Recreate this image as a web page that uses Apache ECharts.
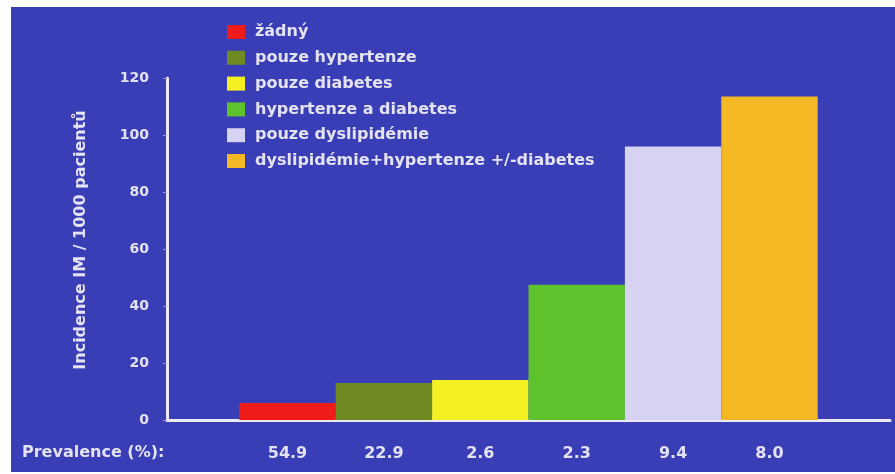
<!DOCTYPE html>
<html>
<head>
<meta charset="utf-8">
<script src="https://cdn.jsdelivr.net/npm/echarts@6/dist/echarts.min.js"></script>
<style>
html,body{margin:0;padding:0;background:#ffffff;width:895px;height:474px;overflow:hidden;}
#c{position:absolute;left:11px;top:7px;width:884px;height:465px;}
</style>
</head>
<body>
<div id="c"></div>
<script>
const categories = ['žádný','pouze hypertenze','pouze diabetes','hypertenze a diabetes','pouze dyslipidémie','dyslipidémie+hypertenze +/-diabetes'];
const incidence = [6, 13, 14, 47.5, 96, 113.5];
const prevalence = ['54.9','22.9','2.6','2.3','9.4','8.0'];
const yTicks = [0, 20, 40, 60, 80, 100, 120];
const colors = ['#f01c1c','#6f8a22','#f4f022','#5ec22c','#d6d2f2','#f4b824'];

const textColor = '#e4e2f6';
const font = 'DejaVu Sans';

const series = categories.map((name, i) => ({
  name: name,
  type: 'bar',
  stack: 'all',
  barWidth: '100%',
  itemStyle: { color: colors[i] },
  data: [[i, incidence[i]]]
}));

const chart = echarts.init(document.getElementById('c'));
chart.setOption({
  backgroundColor: '#3a3eb6',
  animation: false,
  title: {
    text: 'Prevalence (%):',
    left: 11,
    top: 438,
    padding: 0,
    textStyle: { color: textColor, fontFamily: font, fontSize: 16, fontWeight: 'bold' }
  },
  legend: {
    orient: 'vertical',
    left: 216,
    top: 17,
    padding: 0,
    itemWidth: 18,
    itemHeight: 14,
    itemGap: 9.8,
    icon: 'rect',
    data: categories,
    textStyle: { color: textColor, fontFamily: font, fontSize: 16, fontWeight: 'bold', lineHeight: 14, padding: [0, 0, 0, 5] }
  },
  grid: { left: 156, right: 5, top: 71, bottom: 52 },
  xAxis: {
    type: 'value',
    min: -1.25,
    max: 6.25,
    splitLine: { show: false },
    axisLine: { show: true, onZero: false, lineStyle: { color: '#eceaf8', width: 3 } },
    axisTick: { show: false },
    axisLabel: {
      customValues: [0, 1, 2, 3, 4, 5],
      formatter: v => prevalence[Math.round(v)] ?? '',
      color: textColor, fontFamily: font, fontSize: 16, fontWeight: 'bold', margin: 26
    }
  },
  yAxis: {
    type: 'value',
    min: yTicks[0],
    max: yTicks[yTicks.length - 1],
    interval: 20,
    name: 'Incidence IM / 1000 pacientů',
    nameLocation: 'middle',
    nameGap: 78,
    nameRotate: 90,
    nameTextStyle: { color: textColor, fontFamily: font, fontSize: 16, fontWeight: 'bold', padding: [0, 0, 0, 18] },
    splitLine: { show: false },
    axisLine: { show: true, onZero: false, lineStyle: { color: '#eceaf8', width: 3 } },
    axisTick: { show: true, length: 4, lineStyle: { color: '#9a9ad8', width: 1 } },
    axisLabel: { color: textColor, fontFamily: font, fontSize: 14, fontWeight: 'bold', margin: 18 }
  },
  series: series
});
</script>
</body>
</html>
